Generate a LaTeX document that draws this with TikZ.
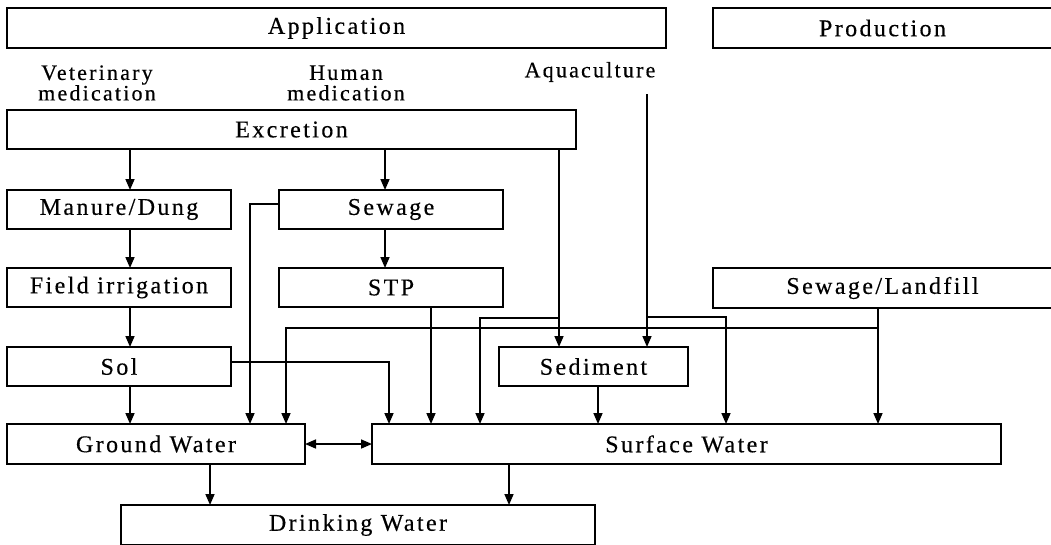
\documentclass[tikz,border=0pt]{standalone}
\usepackage{fontspec}
\setmainfont{Liberation Serif}[LetterSpace=10,FakeBold=0.4]
\usetikzlibrary{arrows.meta}
\begin{document}
\begin{tikzpicture}[x=1pt,y=-1pt,
  box/.style={draw, line width=1.2pt, rectangle, inner sep=0pt, outer sep=0pt,
    font=\fontsize{24}{24}\selectfont},
  lbl/.style={inner sep=0pt, align=center, font=\fontsize{22}{20.5}\selectfont},
  conn/.style={line width=1.6pt, -{Triangle[length=11pt,width=9pt]}},
  dconn/.style={line width=1.6pt, {Triangle[length=11pt,width=9pt]}-{Triangle[length=11pt,width=9pt]}}]
\useasboundingbox (0,0) rectangle (1051,544);
% boxes
\node[box, minimum width=659pt, minimum height=40pt] (app) at (336.5,28) {Application};
\node[box, minimum width=339pt, minimum height=40pt] (prod) at (882.5,28) {Production};
\node[box, minimum width=569pt, minimum height=39pt] (exc) at (291.5,129.5) {Excretion};
\node[box, minimum width=224pt, minimum height=39pt] (man) at (119,209.5) {Manure/Dung};
\node[box, minimum width=224pt, minimum height=39pt] (sew) at (391,209.5) {Sewage};
\node[box, minimum width=224pt, minimum height=39pt] (fld) at (119,287.5) {Field irrigation};
\node[box, minimum width=224pt, minimum height=39pt] (stp) at (391,287.5) {STP};
\node[box, minimum width=339pt, minimum height=40pt] (sl) at (882.5,288) {Sewage/Landfill};
\node[box, minimum width=224pt, minimum height=39pt] (sol) at (119,366.5) {Sol};
\node[box, minimum width=189pt, minimum height=39pt] (sed) at (593.5,366.5) {Sediment};
\node[box, minimum width=298pt, minimum height=40pt] (gw) at (156,444) {Ground Water};
\node[box, minimum width=629pt, minimum height=40pt] (sw) at (686.5,444) {Surface Water};
\node[box, minimum width=474pt, minimum height=40pt] (dw) at (358,525) {Drinking Water};
% labels
\node[lbl] (vet) at (97,83) {Veterinary\\medication};
\node[lbl] (hum) at (346,83) {Human\\medication};
\node[lbl] (aqua) at (590,72) {Aquaculture};
% helper coordinates
\coordinate (xa) at (130,0);
\coordinate (xb) at (385,0);
\coordinate (xc) at (250,0);
\coordinate (xd) at (389,0);
\coordinate (xe) at (431,0);
\coordinate (xf) at (559,0);
\coordinate (xg) at (480,0);
\coordinate (xh) at (647,0);
\coordinate (xi) at (726,0);
\coordinate (xj) at (598,0);
\coordinate (xk) at (878,0);
\coordinate (xl) at (286,0);
\coordinate (xm) at (210,0);
\coordinate (xn) at (509,0);
\coordinate (ySew) at (0,204);
\coordinate (ySol) at (0,362);
\coordinate (yA) at (0,318);
\coordinate (yB) at (0,317);
\coordinate (yC) at (0,328);
\coordinate (aq) at (647,94);
% connectors
\draw[conn] (xa |- exc.south) -- (xa |- man.north);
\draw[conn] (xb |- exc.south) -- (xb |- sew.north);
\draw[conn] (xa |- man.south) -- (xa |- fld.north);
\draw[conn] (xb |- sew.south) -- (xb |- stp.north);
\draw[conn] (xa |- fld.south) -- (xa |- sol.north);
\draw[conn] (xa |- sol.south) -- (xa |- gw.north);
\draw[conn] (sew.west |- ySew) -| (xc |- gw.north);
\draw[conn] (sol.east |- ySol) -| (xd |- sw.north);
\draw[conn] (xe |- stp.south) -- (xe |- sw.north);
\draw[conn] (xf |- exc.south) -- (xf |- sed.north);
\draw[conn] (xf |- yA) -| (xg |- sw.north);
\draw[conn] (aq) -- (aq |- sed.north);
\draw[conn] (xh |- yB) -| (xi |- sw.north);
\draw[conn] (xj |- sed.south) -- (xj |- sw.north);
\draw[conn] (xk |- sl.south) -- (xk |- sw.north);
\draw[conn] (xk |- yC) -| (xl |- gw.north);
\draw[dconn] (gw.east) -- (sw.west);
\draw[conn] (xm |- gw.south) -- (xm |- dw.north);
\draw[conn] (xn |- sw.south) -- (xn |- dw.north);
\end{tikzpicture}
\end{document}
